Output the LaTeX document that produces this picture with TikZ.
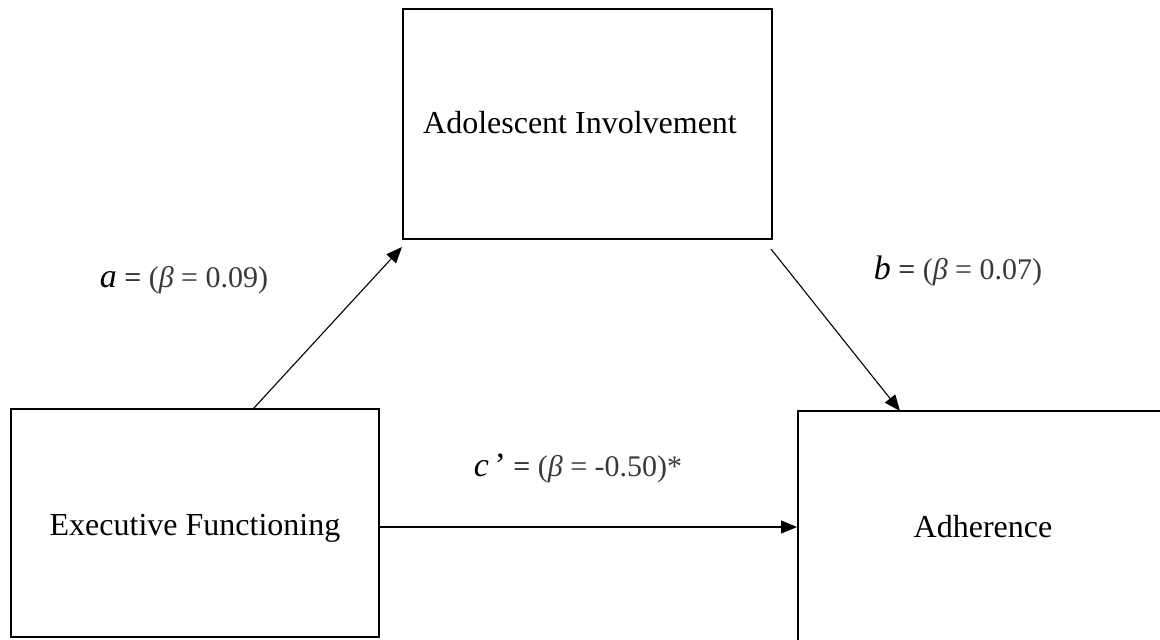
\documentclass[tikz,border=0pt]{standalone}
\usepackage{fontspec}
\setmainfont{Liberation Serif}
\usetikzlibrary{arrows.meta}
\definecolor{lblgray}{HTML}{3A3A3A}
\begin{document}
\begin{tikzpicture}[x=0.5pt,y=-0.5pt,
  boxnode/.style={draw=black,line width=1pt,fill=white,inner sep=0pt,
    font=\fontsize{16}{19}\selectfont},
  linkarrow/.style={line width=0.55pt,-{Triangle[length=8pt,width=6.5pt]}},
  lbl/.style={inner sep=0pt,font=\fontsize{15}{18}\selectfont}]
\useasboundingbox (0,0) rectangle (1160,639);
\clip (0,0) rectangle (1160,639);
\node[boxnode,minimum width=184.5pt,minimum height=115pt] (ai) at (587.5,124) {};
\node[lbl,font=\fontsize{16}{19}\selectfont] (aitxt) at (580,123) {Adolescent Involvement};
\node[boxnode,minimum width=184pt,minimum height=114pt] (ef) at (195,523) {};
\node[lbl,font=\fontsize{16}{19}\selectfont] (eftxt) at (195,528) {Executive Functioning};
\node[boxnode,minimum width=185pt,minimum height=116pt] (ad) at (983,527) {};
\node[lbl,font=\fontsize{16}{19}\selectfont] (adtxt) at (983,527) {Adherence};
\coordinate (aS) at (253,409);
\coordinate (aE) at (402,247);
\coordinate (bS) at (771,249);
\coordinate (bE) at (900,411);
\draw[linkarrow] (aS) -- (aE);
\draw[linkarrow] (bS) -- (bE);
\draw[linkarrow] (ef.east |- ad.west) -- (ad.west);
\node[lbl] (la) at (184,280) {{\fontsize{17}{18}\selectfont\textit{a}} = \textcolor{lblgray}{(\textit{β} = 0.09)}};
\node[lbl] (lb) at (958,271) {{\fontsize{17}{18}\selectfont\textit{b}} = \textcolor{lblgray}{(\textit{β} = 0.07)}};
\node[lbl] (lc) at (578,468) {{\fontsize{17}{18}\selectfont\textit{c}\,’}\ = \textcolor{lblgray}{(\textit{β} = -0.50)*}};
\end{tikzpicture}
\end{document}
